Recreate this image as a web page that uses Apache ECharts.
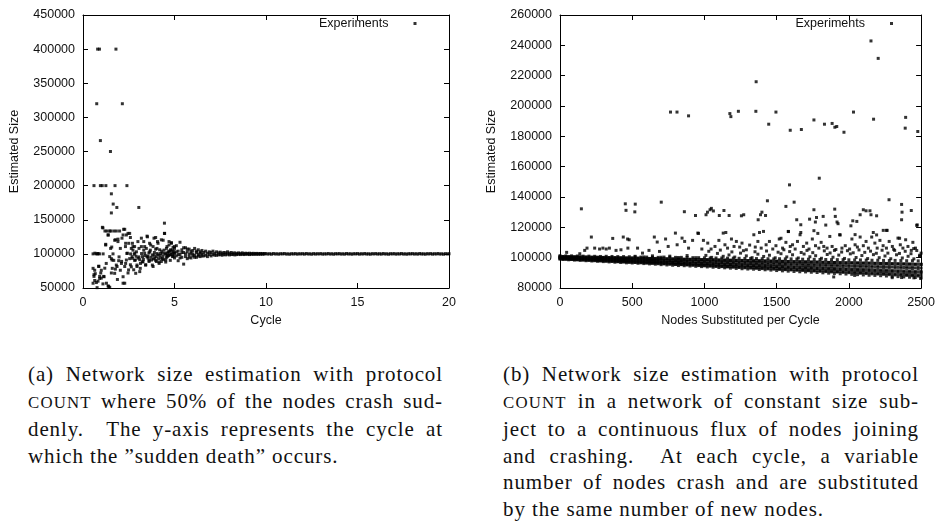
<!DOCTYPE html>
<html>
<head>
<meta charset="utf-8">
<title>Network size estimation with COUNT</title>
<script src="https://cdn.jsdelivr.net/npm/echarts@6/dist/echarts.min.js"></script>
<style>
  html, body { margin: 0; padding: 0; background: #fff; }
  #wrap { position: relative; width: 938px; height: 521px; overflow: hidden; }
  #chart { position: absolute; left: 0; top: 0; width: 938px; height: 340px; }
  .caption { position: absolute; top: 361px; font-family: "Liberation Serif", "DejaVu Serif", serif;
    font-size: 21px; line-height: 26.6px; color: #111; letter-spacing: 0.9px; }
  .caption div { text-align: justify; text-align-last: justify; }
  .caption div.last { text-align: left; text-align-last: left; }
  .sc { font-size: 0.8em; letter-spacing: 1.2px; }
</style>
</head>
<body>
<div id="wrap">
  <div id="chart"></div>
  <div class="caption" style="left:28px;width:415px">
    <div>(a) Network size estimation with protocol</div>
    <div><span class="sc">COUNT</span> where 50% of the nodes crash sud-</div>
    <div>denly.&nbsp; The y-axis represents the cycle at</div>
    <div class="last">which the ”sudden death” occurs.</div>
  </div>
  <div class="caption" style="left:503px;width:416px">
    <div>(b) Network size estimation with protocol</div>
    <div><span class="sc">COUNT</span> in a network of constant size sub-</div>
    <div>ject to a continuous flux of nodes joining</div>
    <div>and crashing.&nbsp; At each cycle, a variable</div>
    <div>number of nodes crash and are substituted</div>
    <div class="last">by the same number of new nodes.</div>
  </div>
</div>
<script>
// (a) sudden death: [cycle, estimated size]
const leftOutliers = [[0.8,400000],[0.9,400000],[1.8,400000],[0.75,320000],[2.15,320000],[0.95,266000],
  [1.5,250000],[0.6,200000],[0.95,200000],[1.05,200000],[1.25,200000],[1.75,200000],[2.4,200000],
  [1.55,188000],[1.65,173000],[1.85,168000],[1.55,160000],[3.05,168000],[4.45,145000]];

const leftCluster = [[0.55,100000],[0.65,101000],[0.8,100000],[0.9,100000],[1.1,100000],
  [0.55,57000],[0.6,67000],[0.64,76000],[0.67,71000],[0.73,100000],[0.82,100500],[0.77,50500],[0.82,60000],
  [0.86,81500],[0.91,67000],[0.97,72000],[1.0,64500],[1.09,138000],[1.13,67000],[1.19,79000],
  [1.2,133500],[1.24,113000],[1.28,57000],[1.31,133500],[1.37,127700],[1.4,52400],[1.46,96000],[1.51,133500],
  [1.51,108000],[1.55,72000],[1.59,91000],[1.64,100000],[1.68,133500],[1.73,120000],[1.77,77700],[1.82,133500],
  [1.86,81500],[1.91,118000],[1.95,90000],[2.0,133500],[2.04,108000],[2.1,86000],[2.13,123000],[2.19,57000],
  [2.22,136000],[2.28,81500],[2.32,110700],[2.37,91000],[2.37,127700],[2.42,101000],[2.46,72000],[2.5,115500],
  [2.55,130000],[2.59,84000],[2.64,108000],[2.68,96000],[2.73,110700],[2.77,76700],[2.83,101000],[2.86,91000],
  [2.92,103000],[2.95,81500],[3.01,93700],[3.06,108000],[3.1,74000],[3.14,86000],[3.19,110700],[3.25,96000],
  [3.28,88800],[3.32,118000],[3.37,101000],[3.43,84000],[3.46,108000],[3.52,125000],[3.56,93700],[3.61,88800],
  [3.65,103000],[3.7,113000],[3.74,91000],[3.79,98500],[3.83,81500],[3.88,123000],[3.92,93700],[3.97,106800],
  [4.01,88800],[4.07,118000],[4.1,98500],[4.16,86000],[4.19,106000],[4.25,93700],[4.28,88800],[4.34,101000],
  [4.38,120000],[4.45,130000],[4.48,101000],[4.52,91000],[4.56,108000],[4.61,96000],[4.65,103000],[4.7,113000],
  [4.74,98500],[4.79,106000],[4.83,116500],[4.89,96000],[4.92,109700],[4.98,101000],
  [0.55,78800],[0.6,69500],[0.64,61000],[0.73,58000],[0.86,82000],[0.91,64000],[1.0,76000],[1.09,56000],
  [1.15,66500],[1.27,86000],[1.37,53000],[1.46,51000],[1.55,93000],[1.6,78800],[1.68,90500],[1.73,71500],
  [1.82,83600],[1.88,62500],[1.97,95600],[2.04,76000],[2.11,89000],[2.19,66500],[2.28,57000],[2.33,86000],
  [2.4,100600],[2.49,76500],[2.55,93000],[2.64,81000],[2.73,105500],[2.82,90500],[2.88,71500],[2.95,83600],
  [3.06,95600],[3.13,78800],[3.24,88000],[3.32,105500],[3.42,83600],[3.5,95600],[3.61,90500],[3.68,105500],
  [3.79,83600],[3.88,98000],[3.97,90500],[4.04,108000],[4.15,88000],[4.23,100600],[4.34,93000],[4.43,105500],
  [4.52,88000],[4.59,98000],[4.7,103000],[4.77,90500],[4.88,105500],[4.95,96500],
  [1.06,138900],[1.38,127700],[1.46,133500],[1.24,114000],[1.57,110000],
  [2.28,136000],[1.78,120600],[1.91,121600],[2.19,127700],[2.46,130000],[2.59,124000],[2.7,115500],
  [2.82,110700],[2.33,115500],[3.0,118000],[3.19,123000],[3.37,110700],[3.5,126000],[3.64,115500],[3.83,110700],
  [3.97,124000],[4.1,115500],[4.28,120600],[4.46,130000],[4.59,110700],[4.7,118000],[4.83,115500],[5.0,110700],
  [3.55,97000],[3.6,101500],[3.72,95000],[3.85,92500],[3.9,102000],[4.0,96000],[4.05,100500],[4.12,93000],
  [4.2,97500],[4.3,104000],[4.36,96500],[4.4,91500],[4.5,99500],[4.55,94500],[4.62,101000],[4.68,97500],
  [4.75,104500],[4.8,99000],[4.85,101500],[4.9,98500],[4.95,103500],[3.3,92000],[3.4,97500],[3.2,100500],
  [3.1,91500],[2.9,96500],[2.8,99500],[2.7,93500],[2.6,100000]];

const leftSettle = [[5.0,108000],[5.0,94000],[5.0,101000],[5.1,112000],[5.1,97000],[5.1,103000],
  [5.2,104000],[5.2,90000],[5.2,99000],[5.3,117000],[5.3,99000],[5.3,94000],[5.4,106000],[5.4,95000],[5.4,102000],
  [5.5,85000],[5.5,102000],[5.5,109000],[5.6,109000],[5.6,96000],[5.6,100000],[5.7,103000],[5.7,93000],[5.7,107000],
  [5.8,107000],[5.8,99000],[5.8,95000],[5.9,101000],[5.9,94000],[5.9,104000],[6.0,105000],[6.0,97000],[6.0,100000],
  [6.1,108000],[6.1,98000],[6.1,95000],[6.2,102000],[6.2,95000],[6.2,104000],[6.3,106000],[6.3,99000],[6.3,97000],
  [6.4,103000],[6.4,96000],[6.4,101000],[6.5,105000],[6.5,100000],[6.5,97000],[6.6,102000],[6.6,97000],
  [6.7,104000],[6.7,98000],[6.8,101000],[6.8,96000],[6.9,103000],[6.9,99000],[7.0,102000],[7.0,97000],
  [7.1,104000],[7.1,99000],[7.2,101000],[7.2,98000],[7.3,103000],[7.3,98000],[7.4,101500],[7.4,98500],
  [7.5,102500],[7.5,99000],[7.6,101000],[7.6,98000],[7.7,102000],[7.7,99000],[7.8,101500],[7.8,98500],
  [7.9,103000],[7.9,99500],[8.0,101000],[8.0,98500],[8.1,102000],[8.1,99000],[8.2,101000],[8.2,99000],
  [8.3,101500],[8.3,98500],[8.4,100500],[8.4,99000],[8.5,101500],[8.5,99500],[8.6,100500],[8.6,99000],
  [8.7,101500],[8.7,99500],[8.8,100500],[8.8,99000],[8.9,101000],[8.9,99500],[9.0,100500],[9.0,99500],
  [9.1,101000],[9.1,99000],[9.2,100500],[9.2,99500],[9.3,100800],[9.3,99300],[9.4,100500],[9.4,99500],
  [9.5,100700],[9.5,99400],[9.6,100300],[9.6,99600],[9.7,100600],[9.7,99500],[9.8,100300],[9.8,99700],
  [9.9,100500],[9.9,99600]];

const leftTail = [[10.0,100400],[10.1,99700],[10.2,100200],[10.3,99500],[10.4,100500],[10.5,99800],[10.6,100100],
  [10.7,99600],[10.8,100300],[10.9,99900],[11.0,100500],[11.1,99700],[11.2,100000],[11.3,99500],[11.4,100300],
  [11.5,99800],[11.6,100400],[11.7,99600],[11.8,100200],[11.9,99900],[12.0,100300],[12.1,99600],[12.2,100500],
  [12.3,99800],[12.4,100100],[12.5,99500],[12.6,100400],[12.7,99700],[12.8,100200],[12.9,99900],[13.0,100400],
  [13.1,99600],[13.2,100100],[13.3,99800],[13.4,100500],[13.5,99700],[13.6,100200],[13.7,99500],[13.8,100300],
  [13.9,99900],[14.0,100400],[14.1,99700],[14.2,100100],[14.3,99600],[14.4,100500],[14.5,99800],[14.6,100200],
  [14.7,99500],[14.8,100300],[14.9,99900],[15.0,100400],[15.1,99600],[15.2,100200],[15.3,99800],[15.4,100500],
  [15.5,99700],[15.6,100100],[15.7,99500],[15.8,100300],[15.9,99900],[16.0,100400],[16.1,99700],[16.2,100200],
  [16.3,99600],[16.4,100500],[16.5,99800],[16.6,100100],[16.7,99500],[16.8,100300],[16.9,99900],[17.0,100400],
  [17.1,99600],[17.2,100200],[17.3,99800],[17.4,100500],[17.5,99700],[17.6,100100],[17.7,99500],[17.8,100300],
  [17.9,99900],[18.0,100400],[18.1,99700],[18.2,100200],[18.3,99600],[18.4,100500],[18.5,99800],[18.6,100100],
  [18.7,99500],[18.8,100300],[18.9,99900],[19.0,100400],[19.1,99600],[19.2,100200],[19.3,99800],[19.4,100500],
  [19.5,99700],[19.6,100100],[19.7,99500],[19.8,100300],[19.9,99900],[20.0,100200]];

// (b) churn: dense band read column by column (x = nodes substituted per cycle)
const bandX = [0,20,40,60,80,100,120,140,160,180,
  200,220,240,260,280,300,320,340,360,380,
  400,420,440,460,480,500,520,540,560,580,
  600,620,640,660,680,700,720,740,760,780,
  800,820,840,860,880,900,920,940,960,980,
  1000,1020,1040,1060,1080,1100,1120,1140,1160,1180,
  1200,1220,1240,1260,1280,1300,1320,1340,1360,1380,
  1400,1420,1440,1460,1480,1500,1520,1540,1560,1580,
  1600,1620,1640,1660,1680,1700,1720,1740,1760,1780,
  1800,1820,1840,1860,1880,1900,1920,1940,1960,1980,
  2000,2020,2040,2060,2080,2100,2120,2140,2160,2180,
  2200,2220,2240,2260,2280,2300,2320,2340,2360,2380,
  2400,2420,2440,2460,2480,2500];
const bandA = [101300,100700,101200,100600,101200,100500,101100,100500,101000,100400,
  101000,100300,100900,100300,100800,100100,100900,100000,100800,100000,
  100700,99900,100700,99800,100600,99800,100500,99700,100400,99600,
  100400,99500,100300,99500,100200,99200,100400,99100,100300,99100,
  100200,99000,100200,98900,100100,98900,100000,98800,100000,98700,
  99900,98700,99800,98600,99800,98400,99800,98400,99700,98300,
  99700,98200,99600,98200,99500,98100,99500,98000,99400,98000,
  99300,97900,99300,97800,99200,97600,99300,97500,99200,97400,
  99200,97300,99100,97300,99000,97200,99000,97100,98900,97100,
  98800,97000,98800,96900,98700,96800,98700,96700,98700,96600,
  98600,96600,98500,96500,98500,96400,98400,96400,98300,96300,
  98300,96200,98200,96200,98100,96000,98200,95900,98100,95900,
  98000,95800,98000,95700,97900,95700];
const bandF = [100800,100200,100700,100100,100600,100000,100600,99900,100500,99700,
  100400,99600,100300,99500,100200,99400,100200,99300,100100,99200,
  100000,99100,99900,99000,99800,98800,99800,98700,99700,98600,
  99600,98500,99500,98400,99400,98300,99400,98200,99300,98000,
  99200,97900,99100,97800,99000,97700,99000,97600,98900,97500,
  98800,97400,98700,97300,98600,97100,98600,97000,98500,96900,
  98400,96800,98300,96700,98200,96600,98200,96500,98100,96400,
  98000,96200,97900,96100,97800,96000,97800,95900,97700,95800,
  97600,95700,97500,95600,97400,95400,97400,95300,97300,95200,
  97200,95100,97100,95000,97000,94900,97000,94800,96900,94700,
  96800,94500,96700,94400,96600,94300,96600,94200,96500,94100,
  96400,94000,96300,93900,96200,93800,96200,93600,96100,93500,
  96000,93400,95900,93300,95800,93200];
const bandB = [100400,100800,100300,100700,100200,100600,100100,100500,100000,100400,
  99900,100300,99800,100200,99700,100200,99500,100100,99400,100000,
  99300,99900,99200,99800,99100,99700,99000,99600,98900,99500,
  98800,99400,98700,99300,98600,99400,98400,99300,98300,99200,
  98200,99100,98100,99000,98000,98900,97900,98800,97800,98700,
  97800,98600,97700,98500,97600,98500,97400,98400,97300,98300,
  97200,98200,97100,98100,97000,98000,96900,97900,96800,97800,
  96700,97700,96600,97600,96500,97700,96300,97600,96200,97500,
  96100,97400,96000,97300,95900,97200,95800,97100,95700,97000,
  95600,96900,95500,96800,95400,96800,95300,96700,95200,96600,
  95100,96600,95000,96500,94900,96400,94800,96300,94700,96200,
  94600,96100,94500,96000,94400,96000,94300,95900,94200,95800,
  94100,95700,94000,95600,93900,95500];
const bandC = [100200,99600,100000,99500,99900,99400,99800,99300,99600,99100,
  99500,99000,99400,98900,99300,98600,99200,98500,99000,98400,
  98900,98300,98800,98100,98700,98000,98500,97900,98400,97700,
  98300,97600,98200,97500,98000,97200,98000,97000,97900,96900,
  97700,96800,97600,96600,97500,96500,97400,96400,97200,96300,
  97100,96100,97000,96000,96800,95800,96800,95700,96600,95500,
  96500,95400,96400,95300,96300,95100,96100,95000,96000,94900,
  95900,94800,95700,94600,95600,94300,95600,94200,95500,94000,
  95300,93900,95200,93800,95100,93700,94900,93500,94800,93400,
  94700,93300,94600,93100,94400,92900,94400,92800,94200,92700,
  94100,92500,94000,92400,93800,92300,93700,92200,93600,92000,
  93500,91900,93300,91800,93200,91500,93100,91400,93000,91300,
  92900,91200,92700,91000,92600,90900];
const bandG = [99700,99200,99500,99000,99400,98800,99200,98700,99100,98500,
  98900,98300,98800,98100,98700,98000,98500,97800,98400,97600,
  98200,97500,98100,97300,97900,97100,97800,96900,97600,96800,
  97500,96600,97300,96400,97200,96200,97000,96100,96900,95900,
  96700,95700,96600,95600,96400,95400,96300,95200,96100,95000,
  96000,94900,95900,94700,95700,94500,95600,94300,95400,94200,
  95300,94000,95100,93800,95000,93700,94800,93500,94700,93300,
  94500,93100,94400,93000,94200,92800,94100,92600,93900,92500,
  93800,92300,93600,92100,93500,91900,93400,91800,93200,91600,
  93100,91400,92900,91200,92800,91100,92600,90900,92500,90700,
  92300,90600,92200,90400,92000,90200,91900,90000,91700,89900,
  91600,89700,91400,89500,91300,89300,91100,89200,91000,89000,
  90800,88800,90700,88700,90600,88500];
const bandD = [99200,99600,99000,99400,98900,99300,98700,99100,98600,98900,
  98400,98800,98300,98600,98100,98500,97800,98400,97700,98200,
  97500,98000,97400,97900,97200,97700,97000,97600,96900,97400,
  96700,97300,96600,97100,96400,97000,96100,96900,95900,96700,
  95700,96600,95600,96400,95400,96200,95300,96100,95100,95900,
  95000,95800,94800,95600,94600,95500,94400,95300,94200,95200,
  94100,95000,93900,94900,93700,94700,93600,94600,93400,94400,
  93300,94200,93100,94100,93000,94000,92600,93900,92400,93700,
  92300,93600,92100,93400,92000,93200,91800,93100,91600,92900,
  91500,92800,91300,92600,91200,92500,90900,92300,90800,92200,
  90600,92000,90400,91900,90300,91700,90100,91500,90000,91400,
  89800,91200,89700,91100,89500,91000,89200,90800,89100,90600,
  88900,90500,88800,90300,88600,90200];
const bandE = [99200,98800,99000,98600,98800,98400,98600,98200,98400,98000,
  98200,97800,98000,97600,97800,97400,97700,97200,97500,97000,
  97300,96800,97100,96600,96900,96500,96800,96300,96600,96100,
  96400,95900,96200,95700,96000,95400,95900,95200,95700,95000,
  95500,94800,95400,94700,95200,94500,95000,94300,94800,94100,
  94600,93900,94400,93700,94200,93500,94100,93300,93900,93100,
  93700,92900,93500,92700,93300,92500,93100,92400,93000,92200,
  92800,92000,92600,91800,92400,91500,92300,91300,92100,91100,
  91900,90900,91700,90700,91600,90600,91400,90400,91200,90200,
  91000,90000,90800,89800,90600,89600,90500,89400,90300,89200,
  90100,89000,89900,88800,89700,88600,89500,88400,89300,88300,
  89200,88100,89000,87900,88800,87600,88600,87500,88500,87300,
  88300,87100,88100,86900,87900,86700];

// (b) points above the band, up to 120000
const rightScatter = [[46,103500],[137,102600],[171,104800],[187,106300],[217,113600],[240,106300],[274,105700],
  [297,106300],[320,105700],[342,106300],[365,112700],[388,104800],[422,105200],[438,113600],[468,112300],
  [479,111800],[470,106300],[537,106300],[571,103000],[616,104800],[653,113600],[673,110300],[689,104100],
  [731,112300],[749,107400],[799,116200],[811,108500],[845,112900],[863,110700],[890,106300],[918,111400],
  [954,116200],[982,105700],[993,111400],[1023,109600],[1046,105700],[1073,107400],[1100,111400],[1130,116200],
  [1142,108500],[1160,106300],[1187,112300],[1205,107400],[1221,110700],[1244,107000],[1260,109600],[1290,105200],
  [1313,108300],[1342,115100],[1352,107000],[1370,110700],[1393,106300],[1409,117300],[1427,108500],[1450,110700],
  [1473,105700],[1495,107900],[1518,112300],[1541,106300],[1564,110100],[1580,117300],[1594,107400],[1610,108500],
  [1628,105700],[1644,110700],[1662,115100],[1685,107400],[1708,109600],[1724,105700],[1747,112300],[1769,107900],
  [1792,106300],[1808,110100],[1826,107400],[1849,106300],[1868,114000],[1884,107400],[1900,104800],[1936,115100],
  [1952,106300],[1975,107900],[2005,105700],[2021,112300],[2043,108500],[2059,107000],[2078,113600],[2100,107900],
  [2119,110700],[2135,106300],[2158,113600],[2180,109600],[2196,106300],[2215,111400],[2237,107900],[2260,106300],
  [2279,110700],[2301,107400],[2317,104800],[2340,112900],[2356,108500],[2374,106300],[2393,111800],[2409,107400],
  [2432,104800],[2443,110100],[2461,106300],[2489,100900],[959,116000],[1148,116600],[1381,116600],[1530,112800],
  [1582,117200],[1667,116600],[1758,117800],[1785,116000],[1940,115000],[2043,115200],[2169,116600],[2192,115000],
  [2238,118000],[2260,118000],[2351,112800],[2449,106000],
  [520,100900],[580,100500],[640,101200],[700,100300],[760,101000],[820,100100],[880,101400],[940,100000],
  [1010,101500],[1050,100200],[1090,102800],[1130,100900],[1170,101800],[1210,100400],[1250,103000],[1290,101200],
  [1330,100000],[1370,102300],[1410,100800],[1450,101600],[1490,99900],[1530,102600],[1570,100500],[1610,101900],
  [1650,99800],[1690,102400],[1730,100600],[1770,101300],[1810,99600],[1850,102100],[1890,100300],[1930,101700],
  [1970,99500],[2010,102500],[2050,100100],[2090,101400],[2130,99400],[2170,102000],[2210,100000],[2250,101100],
  [2290,99300],[2330,101900],[2370,99800],[2410,100900],[2450,99200],[2490,101600],
  [1030,104200],[1110,105000],[1190,103800],[1270,104600],[1350,103900],[1430,104400],[1510,103600],[1550,105200],
  [1590,104000],[1670,103400],[1710,104800],[1750,103300],[1830,104500],[1870,103100],[1910,105400],[1950,103700],
  [1990,104600],[2030,103200],[2070,105100],[2110,103500],[2150,104300],[2190,102900],[2230,104900],[2270,103000],
  [2310,105500],[2350,102800],[2390,104200],[2430,102600],[2470,104700],[2500,103000]];

const rightMid = [[148,132200],[452,135500],[457,131200],[521,135300],[518,130200],[701,136600],[861,130300],
  [938,127800],[1011,128300],[1021,130000],[1039,131600],[1048,132500],[1062,130800],[1103,127800],[1135,131100],
  [1171,127800],[1256,127600],[1272,128300],[1372,125000],[1388,128300],[1423,127800],[1436,137500],[1398,130000],
  [1564,133800],[1621,136600],[1639,125000],[1667,121700],[1728,125400],[1758,131600],[1776,126500],[1768,123500],
  [1822,127200],[1840,121500],[1902,132000],[1906,127200],[1918,123500],[1925,122400],[2014,121000],[2027,124300],
  [2055,123900],[2078,128300],[2100,131600],[2119,130900],[2146,130900],[2153,128300],[2192,127600],[2365,135100],
  [2368,130000],[2365,125000],[2432,131100],[2470,121300],[2473,121600],[2265,118000],[2278,138200]];

const rightHigh = [[765,196000],[810,196000],[890,193500],[1176,195000],[1183,193000],[1235,196500],[1358,216000],
  [1356,196500],[1445,188000],[1495,196000],[1594,184000],[1671,184500],[1758,190800],[1831,188000],[1884,188500],
  [1903,186000],[1916,186500],[1966,182700],[2032,196000],[2153,242900],[2203,231400],[2171,191300],[2393,192500],
  [2390,185400],[2477,183200],[1589,148000],[1795,152400]];

const rightLow = [[1895,87300],[2365,86900],[2497,86300],[2040,88300],[2450,86700],[2300,86800]];

const leftTicksX = [0, 20, 5];
const leftTicksY = [50000, 450000, 50000];
const rightTicksX = [0, 2500, 500];
const rightTicksY = [80000, 260000, 20000];

const leftPoints = leftOutliers.concat(leftCluster, leftSettle, leftTail);
let rightPoints = [];
[bandA, bandF, bandB, bandC, bandG, bandD, bandE].forEach(function (row) {
  row.forEach(function (v, i) { rightPoints.push([bandX[i], v]); });
});
rightPoints = rightPoints.concat(rightScatter, rightMid, rightHigh, rightLow);

const font = 'Liberation Sans, Arial, Helvetica, sans-serif';
const txt = { color: '#111', fontSize: 12.5, fontFamily: font };

// gnuplot style: frame on all sides, ticks inside, labels only bottom/left
function axis(grid, pos, ticks, name, gap) {
  const labels = pos === 'bottom' || pos === 'left';
  return {
    type: 'value', gridIndex: grid, position: pos,
    min: ticks[0], max: ticks[1], interval: ticks[2],
    axisLine: { show: true, onZero: false, lineStyle: { color: '#000', width: 1 } },
    axisTick: { show: true, inside: true, length: 5, lineStyle: { color: '#000', width: 1 } },
    axisLabel: Object.assign({ show: labels, margin: 8, formatter: function (v) { return String(v); } }, txt),
    splitLine: { show: false },
    name: labels ? name : '', nameLocation: 'middle', nameGap: gap, nameTextStyle: txt
  };
}

function legendAt(right) {
  return {
    data: ['Experiments'], right: right, top: 17, padding: 0, align: 'right',
    icon: 'rect', itemWidth: 3, itemHeight: 3,
    textStyle: Object.assign({ padding: [0, 20, 0, 0] }, txt)
  };
}

function dots(xi, yi, data) {
  return {
    type: 'scatter', name: 'Experiments', xAxisIndex: xi, yAxisIndex: yi, data: data,
    symbol: 'rect', symbolSize: 3, itemStyle: { color: '#000' },
    progressive: 0, large: false, emphasis: { disabled: true }
  };
}

const chart = echarts.init(document.getElementById('chart'));
chart.setOption({
  animation: false,
  legend: [legendAt(521.5), legendAt(45)],
  grid: [
    { left: 83, top: 15, width: 366, height: 273 },
    { left: 560, top: 15, width: 365, height: 273 }
  ],
  xAxis: [
    axis(0, 'bottom', leftTicksX, 'Cycle', 26),
    axis(0, 'top', leftTicksX),
    axis(1, 'bottom', rightTicksX, 'Nodes Substituted per Cycle', 26),
    axis(1, 'top', rightTicksX)
  ],
  yAxis: [
    axis(0, 'left', leftTicksY, 'Estimated Size', 62),
    axis(0, 'right', leftTicksY),
    axis(1, 'left', rightTicksY, 'Estimated Size', 62),
    axis(1, 'right', rightTicksY)
  ],
  series: [dots(0, 0, leftPoints), dots(2, 2, rightPoints)]
});
</script>
</body>
</html>
